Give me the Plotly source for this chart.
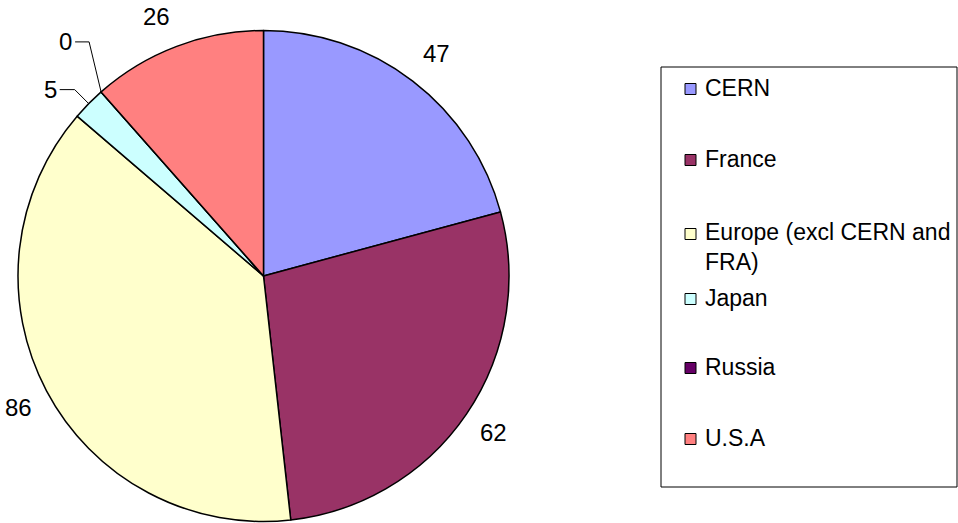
import math
import plotly.graph_objects as go

# ---- data ----
categories = ["CERN", "France", "Europe (excl CERN and FRA)", "Japan", "Russia", "U.S.A"]
values = [47, 62, 86, 5, 0, 26]
colors = ["#9999FF", "#993366", "#FFFFCC", "#CCFFFF", "#660066", "#FF8080"]
legend_text = ["CERN", "France", "Europe (excl CERN and<br>FRA)", "Japan", "Russia", "U.S.A"]

# ---- layout geometry (pixels) ----
W, H = 958, 523
CX, CY, R = 263.5, 276.0, 245.5
FONT = "Liberation Sans, Arial, sans-serif"


def px(x):
    return x / W


def py(y):
    return 1 - y / H


fig = go.Figure()
fig.add_trace(go.Pie(
    labels=categories, values=values, sort=False, direction="clockwise", rotation=0,
    marker=dict(colors=colors, line=dict(color="black", width=1.5)),
    textinfo="none", showlegend=False,
    domain=dict(x=[px(CX - R), px(CX + R)], y=[py(CY + R), py(CY - R)]),
))

annotations = []
shapes = []
total = sum(values)
cum = 0.0
# slices whose labels use leader lines: (label position offset from edge point)
leader = {"Japan": (-29, -14, 15), "Russia": (-26, -50, 14)}
for cat, v in zip(categories, values):
    start = cum
    cum += v
    mid = (start + v / 2) / total * 2 * math.pi
    s, c = math.sin(mid), math.cos(mid)
    ex, ey = CX + R * s, CY - R * c
    if cat in leader:
        dx, dy, run = leader[cat]
        elbow_x, elbow_y = ex + dx + run, ey + dy
        end_x = ex + dx
        shapes.append(dict(type="path", xref="paper", yref="paper",
                           path=f"M {px(ex)},{py(ey)} L {px(elbow_x)},{py(elbow_y)} L {px(end_x)},{py(elbow_y)}",
                           line=dict(color="black", width=1)))
        annotations.append(dict(x=px(end_x - 1), y=py(elbow_y), xref="paper", yref="paper",
                                text=str(v), showarrow=False, xanchor="right", yanchor="middle",
                                font=dict(family=FONT, size=24, color="black")))
        continue
    g = R + 14
    xa = "left" if s > 0.15 else ("right" if s < -0.15 else "center")
    ya = "bottom" if c > 0.15 else ("top" if c < -0.15 else "middle")
    lx, ly = CX + g * s, CY - g * c - (5 if ya == "top" else 1)
    annotations.append(dict(x=px(lx), y=py(ly), xref="paper", yref="paper", text=str(v),
                            showarrow=False, xanchor=xa, yanchor=ya,
                            font=dict(family=FONT, size=24, color="black")))

# ---- legend (drawn manually to reproduce spacing) ----
shapes.append(dict(type="rect", xref="paper", yref="paper", x0=px(661), x1=px(957),
                   y0=py(487), y1=py(67), line=dict(color="black", width=1)))
legend_y = [89, 160, 234, 299, 368, 439]
for txt, col, yy in zip(legend_text, colors, legend_y):
    shapes.append(dict(type="rect", xref="paper", yref="paper", x0=px(685), x1=px(696),
                       y0=py(yy + 5.5), y1=py(yy - 5.5), fillcolor=col,
                       line=dict(color="black", width=1)))
    nlines = txt.count("<br>") + 1
    ycen = yy + (nlines - 1) * 13.5
    annotations.append(dict(x=px(703), y=py(ycen - 1), xref="paper", yref="paper", text=txt,
                            showarrow=False, xanchor="left", yanchor="middle", align="left",
                            font=dict(family=FONT, size=23, color="black")))

fig.update_layout(
    width=W, height=H, margin=dict(l=0, r=0, t=0, b=0),
    paper_bgcolor="white", plot_bgcolor="white",
    annotations=annotations, shapes=shapes,
)
fig.write_html("out.html", config={"displayModeBar": False},
               post_script="document.body.style.margin='0';")
